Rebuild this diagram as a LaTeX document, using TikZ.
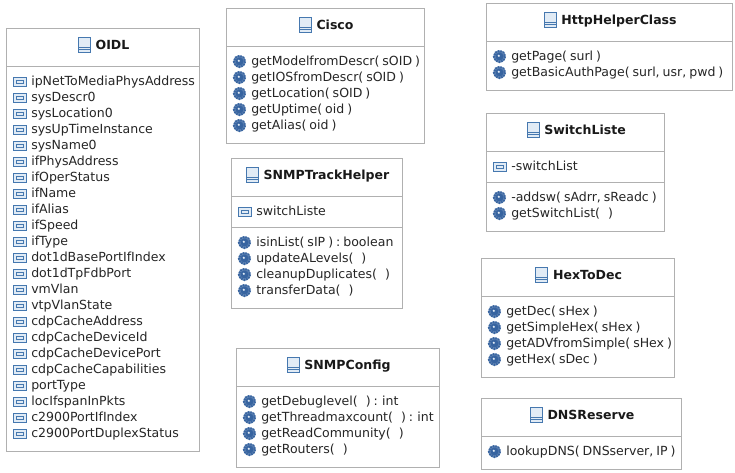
\documentclass[tikz,border=0pt]{standalone}
\usepackage{fontspec}
\setmainfont[WordSpace=0.75]{DejaVu Sans}
\definecolor{frame}{RGB}{176,176,176}
\definecolor{iconblue}{RGB}{70,120,175}
\definecolor{iconfill}{RGB}{225,235,245}
\definecolor{gearblue}{RGB}{55,100,160}
\newcommand{\noarg}{\hspace{6pt}}
\tikzset{
  x=0.75pt,y=-0.75pt,
  umlbox/.style={draw=frame,line width=0.75pt,fill=white},
  sepline/.style={draw=frame,line width=0.75pt},
  titletext/.style={font=\fontsize{9.4pt}{11pt}\selectfont\bfseries,inner sep=0pt,anchor=base,text=black!90},
  itemtext/.style={font=\fontsize{9.4pt}{11pt}\selectfont,inner sep=0pt,anchor=base west,text=black!85},
}
% name, x1,y1,x2,y2, title (the node's outer sep puts its border on the pixel centre)
\newcommand{\umlclass}[6]{%
  \node[umlbox,inner sep=0pt,rectangle,anchor=north west,
    minimum width={(#4-#2)*0.75pt},minimum height={(#5-#3)*0.75pt}] (#1) at (#2,#3) {};
  \node[titletext] (#1t) at ({(#2+#4)/2+10},#3+21.7) {#6};
  \begin{scope}[shift={(#1t.base west)}]
    \filldraw[draw=iconblue,fill=iconfill,line width=0.7pt] (-17,-12.7) rectangle (-5,2.3);
    \draw[iconblue,line width=0.6pt] (-17,-2.7) -- (-5,-2.7) (-17,-0.2) -- (-5,-0.2);
  \end{scope}
}
\newcommand{\umlsep}[3]{\path[sepline] (#2+0.5,#1+0.5) -- (#3+0.5,#1+0.5);}
\newcommand{\attr}[3]{%
  \filldraw[draw=iconblue,fill=iconfill,line width=0.7pt] (#1+7.5,#2-8) rectangle (#1+20,#2+0.5);
  \draw[iconblue,line width=0.6pt] (#1+10,#2-5.5) rectangle (#1+17.5,#2-2);
  \node[itemtext] at (#1+25,#2) {#3};
}
\newcommand{\oper}[3]{%
  \fill[gearblue!80!white] (#1+13.5,#2-4) circle[radius=6.2];
  \draw[gearblue,line width=1.5pt,dash pattern=on 1pt off 1pt] (#1+13.5,#2-4) circle[radius=5.6];
  \fill[gearblue] (#1+13.5,#2-4) circle[radius=4];
  \fill[iconfill] (#1+12.8,#2-4.7) circle[radius=1.2];
  \node[itemtext] at (#1+25,#2) {#3};
}
\begin{document}
\begin{tikzpicture}
\useasboundingbox (0,0) rectangle (735,473);
\fill[white] (0,0) rectangle (735,473);
% OIDL
\umlclass{oidl}{6}{28}{199}{451}{OIDL}
\umlsep{66}{6}{199}
\foreach \t [count=\i from 0] in {ipNetToMediaPhysAddress,sysDescr0,sysLocation0,sysUpTimeInstance,sysName0,ifPhysAddress,ifOperStatus,ifName,ifAlias,ifSpeed,ifType,dot1dBasePortIfIndex,dot1dTpFdbPort,vmVlan,vtpVlanState,cdpCacheAddress,cdpCacheDeviceId,cdpCacheDevicePort,cdpCacheCapabilities,portType,locIfspanInPkts,c2900PortIfIndex,c2900PortDuplexStatus}{\attr{6}{85.5+16*\i}{\t}}
% Cisco
\umlclass{cisco}{226}{8}{424}{143}{Cisco}
\umlsep{46}{226}{424}
\foreach \t [count=\i from 0] in {getModelfromDescr( sOID ),getIOSfromDescr( sOID ),getLocation( sOID ),getUptime( oid ),getAlias( oid )}{\oper{226}{65.5+16*\i}{\t}}
% SNMPTrackHelper
\umlclass{track}{231}{158}{402}{308}{SNMPTrackHelper}
\umlsep{196}{231}{402}
\umlsep{227}{231}{402}
\attr{231}{215.5}{switchListe}
\foreach \t [count=\i from 0] in {isinList( sIP ) : boolean,updateALevels(\noarg),cleanupDuplicates(\noarg),transferData(\noarg)}{\oper{231}{246.5+16*\i}{\t}}
% SNMPConfig
\umlclass{config}{236}{348}{439}{467}{SNMPConfig}
\umlsep{386}{236}{439}
\foreach \t [count=\i from 0] in {getDebuglevel(\noarg) : int,getThreadmaxcount(\noarg) : int,getReadCommunity(\noarg),getRouters(\noarg)}{\oper{236}{405.5+16*\i}{\t}}
% HttpHelperClass
\umlclass{http}{486}{3}{732}{90}{HttpHelperClass}
\umlsep{41}{486}{732}
\foreach \t [count=\i from 0] in {getPage( surl ),{getBasicAuthPage( surl, usr, pwd )}}{\oper{486}{60.5+16*\i}{\t}}
% SwitchListe
\umlclass{switch}{486}{113}{664}{231}{SwitchListe}
\umlsep{151}{486}{664}
\umlsep{182}{486}{664}
\attr{486}{170.5}{-switchList}
\foreach \t [count=\i from 0] in {{-addsw( sAdrr, sReadc )},getSwitchList(\noarg)}{\oper{486}{201.5+16*\i}{\t}}
% HexToDec
\umlclass{hex}{481}{258}{674}{377}{HexToDec}
\umlsep{296}{481}{674}
\foreach \t [count=\i from 0] in {getDec( sHex ),getSimpleHex( sHex ),getADVfromSimple( sHex ),getHex( sDec )}{\oper{481}{315.5+16*\i}{\t}}
% DNSReserve
\umlclass{dns}{481}{398}{681}{469}{DNSReserve}
\umlsep{436}{481}{681}
\oper{481}{455.5}{lookupDNS( DNSserver, IP )}
\end{tikzpicture}
\end{document}
